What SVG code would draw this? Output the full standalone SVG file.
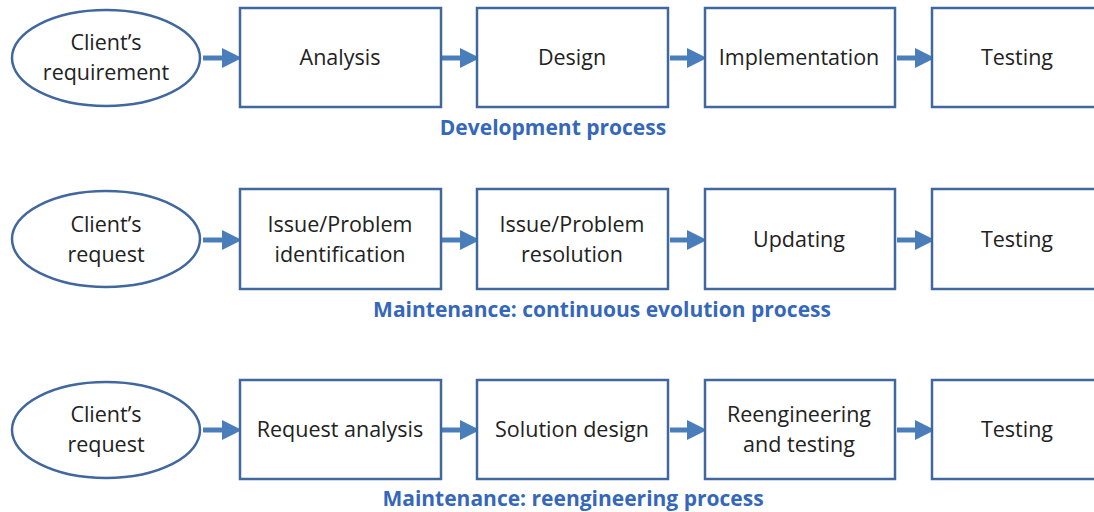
<svg xmlns="http://www.w3.org/2000/svg" width="1094" height="512" viewBox="0 0 1094 512">
<defs>
<style>
.n{fill:#fff;stroke:#41689e;stroke-width:2.5}
.t{font-family:"Open Sans","Liberation Sans",sans-serif;font-size:21.5px;fill:#222;text-anchor:middle}
.c{stroke:#4a7ebb;stroke-width:5;fill:none}
.h{fill:#4a7ebb}
.cap{font-family:"Open Sans","Liberation Sans",sans-serif;font-size:21px;font-weight:bold;fill:#3567bb;text-anchor:middle}
</style>
<marker id="ah" markerWidth="4" markerHeight="4" refX="1" refY="2" orient="auto" markerUnits="strokeWidth" viewBox="0 0 4 4"><path d="M0,0 L4,2 L0,4 Z" class="h"/></marker>
</defs>
<rect width="1094" height="512" fill="#fff"/>
<g id="connectors">
<line class="c" x1="203" y1="58" x2="227" y2="58" marker-end="url(#ah)"/>
<line class="c" x1="442" y1="58" x2="465" y2="58" marker-end="url(#ah)"/>
<line class="c" x1="670" y1="58" x2="692" y2="58" marker-end="url(#ah)"/>
<line class="c" x1="897" y1="58" x2="920" y2="58" marker-end="url(#ah)"/>
<line class="c" x1="203" y1="240" x2="227" y2="240" marker-end="url(#ah)"/>
<line class="c" x1="442" y1="240" x2="465" y2="240" marker-end="url(#ah)"/>
<line class="c" x1="670" y1="240" x2="692" y2="240" marker-end="url(#ah)"/>
<line class="c" x1="897" y1="240" x2="920" y2="240" marker-end="url(#ah)"/>
<line class="c" x1="203" y1="430" x2="227" y2="430" marker-end="url(#ah)"/>
<line class="c" x1="442" y1="430" x2="465" y2="430" marker-end="url(#ah)"/>
<line class="c" x1="670" y1="430" x2="692" y2="430" marker-end="url(#ah)"/>
<line class="c" x1="897" y1="430" x2="920" y2="430" marker-end="url(#ah)"/>
</g>
<g id="r1-client"><ellipse class="n" cx="106" cy="58" rx="94" ry="48"/><text class="t" x="106" y="50">Client’s</text><text class="t" x="106" y="80">requirement</text></g>
<g id="r1-analysis"><rect class="n" x="240" y="8" width="201" height="99"/><text class="t" x="340" y="65">Analysis</text></g>
<g id="r1-design"><rect class="n" x="477" y="8" width="191" height="99"/><text class="t" x="572" y="65">Design</text></g>
<g id="r1-impl"><rect class="n" x="705" y="8" width="190" height="99"/><text class="t" x="799" y="65">Implementation</text></g>
<g id="r1-testing"><rect class="n" x="932" y="8" width="180" height="99"/><text class="t" x="1017" y="65">Testing</text></g>
<text class="cap" x="553" y="135">Development process</text>

<g id="r2-client"><ellipse class="n" cx="106" cy="239" rx="94" ry="48"/><text class="t" x="106" y="232">Client’s</text><text class="t" x="106" y="262">request</text></g>
<g id="r2-ident"><rect class="n" x="240" y="189" width="201" height="100"/><text class="t" x="340" y="232">Issue/Problem</text><text class="t" x="340" y="262">identification</text></g>
<g id="r2-resol"><rect class="n" x="477" y="189" width="191" height="100"/><text class="t" x="572" y="232">Issue/Problem</text><text class="t" x="572" y="262">resolution</text></g>
<g id="r2-upd"><rect class="n" x="705" y="189" width="190" height="100"/><text class="t" x="799" y="247">Updating</text></g>
<g id="r2-testing"><rect class="n" x="932" y="189" width="180" height="100"/><text class="t" x="1017" y="247">Testing</text></g>
<text class="cap" x="602" y="317">Maintenance: continuous  evolution process</text>

<g id="r3-client"><ellipse class="n" cx="106" cy="430" rx="94" ry="48"/><text class="t" x="106" y="422">Client’s</text><text class="t" x="106" y="452">request</text></g>
<g id="r3-req"><rect class="n" x="240" y="380" width="201" height="99"/><text class="t" x="340" y="437">Request analysis</text></g>
<g id="r3-sol"><rect class="n" x="477" y="380" width="191" height="99"/><text class="t" x="572" y="437">Solution design</text></g>
<g id="r3-reeng"><rect class="n" x="705" y="380" width="190" height="99"/><text class="t" x="799" y="422">Reengineering</text><text class="t" x="799" y="452">and testing</text></g>
<g id="r3-testing"><rect class="n" x="932" y="380" width="180" height="99"/><text class="t" x="1017" y="437">Testing</text></g>
<text class="cap" x="573" y="506">Maintenance: reengineering process</text>
</svg>
